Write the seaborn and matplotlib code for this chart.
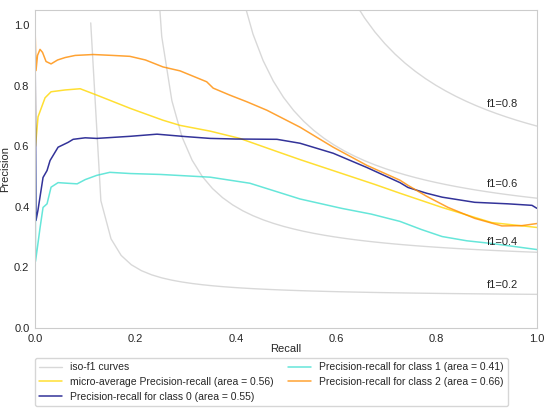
import numpy as np
import pandas as pd
import seaborn as sns
import matplotlib
matplotlib.use('Agg')
import matplotlib.pyplot as plt

# values
f_scores = [0.2, 0.4, 0.6, 0.8]

micro_recall = [0.0, 0.001, 0.006, 0.02, 0.032, 0.06, 0.09, 0.123, 0.19, 0.255,
                0.289, 0.349, 0.408, 0.478, 0.528, 0.677, 0.727, 0.811, 0.91, 1.0]
micro_precision = [1.0, 0.6, 0.697, 0.76, 0.78, 0.786, 0.79, 0.769, 0.725, 0.686,
                   0.669, 0.65, 0.626, 0.585, 0.556, 0.474, 0.445, 0.398, 0.348, 0.332]

c0_recall = [0.0, 0.002, 0.006, 0.016, 0.024, 0.03, 0.046, 0.056, 0.066, 0.076, 0.1,
             0.123, 0.19, 0.243, 0.3, 0.349, 0.4, 0.482, 0.528, 0.594, 0.661, 0.727,
             0.743, 0.78, 0.811, 0.876, 0.942, 0.99, 1.0]
c0_precision = [1.0, 0.355, 0.39, 0.497, 0.52, 0.553, 0.597, 0.605, 0.613, 0.623, 0.628,
                0.626, 0.633, 0.64, 0.632, 0.626, 0.624, 0.623, 0.61, 0.577, 0.53, 0.48,
                0.464, 0.445, 0.432, 0.415, 0.41, 0.405, 0.395]

c1_recall = [0.0, 0.001, 0.004, 0.01, 0.016, 0.024, 0.032, 0.046, 0.064, 0.084, 0.1,
             0.123, 0.149, 0.19, 0.25, 0.349, 0.428, 0.478, 0.528, 0.611, 0.67, 0.727,
             0.77, 0.811, 0.86, 0.91, 1.0]
c1_precision = [1.0, 0.22, 0.256, 0.33, 0.398, 0.41, 0.465, 0.48, 0.478, 0.476, 0.49,
                0.504, 0.514, 0.51, 0.507, 0.498, 0.478, 0.452, 0.426, 0.395, 0.376, 0.352,
                0.325, 0.302, 0.288, 0.279, 0.259]

c2_recall = [0.0, 0.002, 0.005, 0.01, 0.015, 0.022, 0.032, 0.045, 0.06, 0.08, 0.116,
             0.155, 0.189, 0.22, 0.255, 0.289, 0.342, 0.355, 0.388, 0.422, 0.462, 0.528,
             0.594, 0.661, 0.727, 0.743, 0.78, 0.823, 0.876, 0.93, 0.97, 1.0]
c2_precision = [1.0, 0.85, 0.9, 0.92, 0.91, 0.88, 0.872, 0.885, 0.893, 0.9, 0.903,
                0.9, 0.897, 0.885, 0.862, 0.849, 0.813, 0.792, 0.769, 0.747, 0.719, 0.663,
                0.597, 0.537, 0.488, 0.471, 0.435, 0.398, 0.362, 0.337, 0.338, 0.345]

areas = {'micro': 0.56, 0: 0.55, 1: 0.41, 2: 0.66}

sns.set_style('whitegrid')
plt.rcParams['font.family'] = ['Liberation Sans', 'DejaVu Sans']

fig = plt.figure(figsize=(5.5, 4.17), dpi=100)
ax = fig.add_axes([35/550, 1-328/417, 502/550, 318/417])
ax.grid(False)

# iso-f1 curves
for i, f_score in enumerate(f_scores):
    x = np.linspace(0.01, 1)
    y = f_score * x / (2 * x - f_score)
    sns.lineplot(x=x[y >= 0], y=y[y >= 0], sort=False, estimator=None, color='gray',
                 alpha=0.3, lw=1, ax=ax, label='iso-f1 curves' if i == 0 else None)
    ax.annotate('f1={0:0.1f}'.format(f_score), xy=(0.9, y[45] + 0.02), fontsize=8,
                color='.15')

curves = [
    (micro_recall, micro_precision, 'gold',
     'micro-average Precision-recall (area = {0:0.2f})'.format(areas['micro'])),
    (c0_recall, c0_precision, 'navy',
     'Precision-recall for class 0 (area = {0:0.2f})'.format(areas[0])),
    (c1_recall, c1_precision, 'turquoise',
     'Precision-recall for class 1 (area = {0:0.2f})'.format(areas[1])),
    (c2_recall, c2_precision, 'darkorange',
     'Precision-recall for class 2 (area = {0:0.2f})'.format(areas[2])),
]
for rec, prec, col, lab in curves:
    df = pd.DataFrame({'recall': rec, 'precision': prec})
    sns.lineplot(data=df, x='recall', y='precision', sort=False, estimator=None,
                 color=col, lw=1.1, alpha=0.8, ax=ax, label=lab)

ax.set_xlim(0.0, 1.0)
ax.set_ylim(0.0, 1.05)
ax.set_xlabel('Recall', fontsize=8, labelpad=0)
ax.set_ylabel('Precision', fontsize=8, labelpad=3)
ax.tick_params(labelsize=8, pad=0.5)

handles, labels = ax.get_legend_handles_labels()
ax.get_legend().remove()
fig.legend(handles, labels, loc='upper left', ncol=2, fontsize=7.5,
           bbox_to_anchor=(35/550, 1-358/417), borderaxespad=0,
           handlelength=2.2, columnspacing=1.3, labelspacing=0.45)

fig.savefig('out.png', dpi=100)
